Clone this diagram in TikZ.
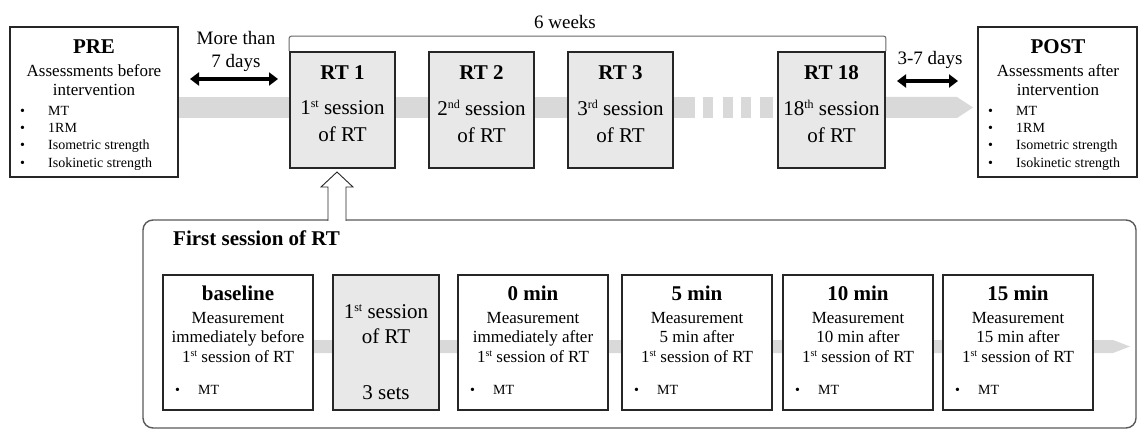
\documentclass[tikz,border=0pt]{standalone}
\usepackage{fontspec}
\setmainfont{Liberation Serif}
\usetikzlibrary{arrows.meta}
\newcommand{\supL}[1]{\raisebox{7pt}{\fontsize{12}{12}\selectfont #1}}
\newcommand{\supS}[1]{\raisebox{5.5pt}{\fontsize{10}{10}\selectfont #1}}
\newcommand{\blt}[2][28pt]{\makebox[#1][l]{\textbullet}#2}
\begin{document}
\begin{tikzpicture}
		[x=1pt,y=-1pt,
		 whitebox/.style={rectangle,draw=black!85,line width=1.6pt,fill=white,inner sep=0pt},
		 graybox/.style={whitebox,fill=black!9},
		 band/.style={fill=black!15,draw=none},
		 head/.style={font=\bfseries\fontsize{21}{24}\selectfont,inner sep=0pt},
		 desc/.style={font=\fontsize{17}{19.5}\selectfont,inner sep=0pt,align=center},
		 sess/.style={font=\fontsize{21}{27}\selectfont,inner sep=0pt,align=center},
		 note/.style={font=\fontsize{19}{23}\selectfont,inner sep=0pt,align=center},
		 items/.style={font=\fontsize{14}{17.3}\selectfont,inner sep=0pt,anchor=west,align=left},
		 span/.style={line width=4pt,{Triangle[width=13pt,length=9pt]}-{Triangle[width=13pt,length=9pt]}}]
		\useasboundingbox (0,0) rectangle (1139,430);
		% timeline bands
		\fill[band] (178,97) rectangle (695,118);
		\fill[band] (703,97) rectangle (713,118);
		\fill[band] (723,97) rectangle (733,118);
		\fill[band] (741,97) rectangle (751,118);
		\fill[band] (760,97) rectangle (773,118);
		\fill[band] (778,97) -- (957,97) -- (973,107.5) -- (957,118) -- (778,118) -- cycle;
		% top row
		\node[whitebox,name=pre,minimum width=168pt,minimum height=150pt] at (94,102) {};
		\node[head,name=pretitle] at (94,47) {PRE};
		\node[desc,name=pretext] at (94,80) {Assessments before\\intervention};
		\node[items,name=preitems] at (20,138) {\blt{MT}\\\blt{1RM}\\\blt{Isometric strength}\\\blt{Isokinetic strength}};
		\node[whitebox,name=post,minimum width=159pt,minimum height=150pt] at (1057.5,102) {};
		\node[head,name=posttitle] at (1058,47) {POST};
		\node[desc,name=posttext] at (1058,80) {Assessments after\\intervention};
		\node[items,name=postitems] at (988,138) {\blt{MT}\\\blt{1RM}\\\blt{Isometric strength}\\\blt{Isokinetic strength}};
		\node[graybox,name=rt1,minimum width=105pt,minimum height=116pt] at (342.5,110) {};
		\node[graybox,name=rt2,minimum width=105pt,minimum height=116pt] at (481.5,110) {};
		\node[graybox,name=rt3,minimum width=105pt,minimum height=116pt] at (620.5,110) {};
		\node[graybox,name=rt18,minimum width=107pt,minimum height=116pt] at (831.5,110) {};
		\node[head,name=rt1title] at (342.5,73) {RT 1};
		\node[head,name=rt2title] at (481.5,73) {RT 2};
		\node[head,name=rt3title] at (620.5,73) {RT 3};
		\node[head,name=rt18title] at (831.5,73) {RT 18};
		\node[sess,name=rt1text] at (342.5,121.5) {1\supL{st} session\\of RT};
		\node[sess,name=rt2text] at (481.5,121.5) {2\supL{nd} session\\of RT};
		\node[sess,name=rt3text] at (620.5,121.5) {3\supL{rd} session\\of RT};
		\node[sess,name=rt18text] at (831.5,121.5) {18\supL{th} session\\of RT};
		% six weeks bracket
		\draw[black!60,line width=1pt,rounded corners=2pt] (rt1.north west) -- ++(0,-15) -| (rt18.north east);
		\node[note,name=weeks] at (565,22) {6 weeks};
		% intervals
		\node[note,name=gap1] at (236,51.5) {More than\\7 days};
		\coordinate (g1a) at (190,79);
		\coordinate (g1b) at (278,79);
		\draw[span] (g1a) -- (g1b);
		\node[note,name=gap2] at (930,60) {3-7 days};
		\coordinate (g2a) at (897,81);
		\coordinate (g2b) at (958,81);
		\draw[span] (g2a) -- (g2b);
		% first session panel
		\node[rectangle,draw=black!65,line width=1.4pt,rounded corners=10pt,minimum width=993pt,minimum height=208pt,name=first] at (639.5,324) {};
		\draw[black!85,line width=0.9pt,fill=white] (328,221) -- (328,187) -- (321,187) -- (337,172) -- (353,187) -- (346,187) -- (346,221);
		\node[head,anchor=west,name=firsttitle] at (173,238) {First session of RT};
		\fill[band] (163,340) -- (1113,340) -- (1130,346.5) -- (1113,353) -- (163,353) -- cycle;
		\node[whitebox,name=base,minimum width=150pt,minimum height=135pt] at (238,342.5) {};
		\node[graybox,name=rtfirst,minimum width=106pt,minimum height=135pt] at (386,342.5) {};
		\node[whitebox,name=m0,minimum width=150pt,minimum height=135pt] at (533,342.5) {};
		\node[whitebox,name=m5,minimum width=150pt,minimum height=135pt] at (697,342.5) {};
		\node[whitebox,name=m10,minimum width=150pt,minimum height=135pt] at (858,342.5) {};
		\node[whitebox,name=m15,minimum width=150pt,minimum height=135pt] at (1018,342.5) {};
		\node[head,name=basetitle] at (238,293) {baseline};
		\node[desc,name=basetext] at (238,337.5) {Measurement\\immediately before\\1\supS{st} session of RT};
		\node[items,name=baseitems] at (175,390) {\blt[23pt]{MT}};
		\node[sess,font=\fontsize{21}{25}\selectfont,name=rtfirsttext] at (386,324.5) {1\supL{st} session\\of RT};
		\node[sess,name=rtfirstsets] at (386,393) {3 sets};
		\node[head,name=m0title] at (533,293) {0 min};
		\node[desc,name=m0text] at (533,337.5) {Measurement\\immediately after\\1\supS{st} session of RT};
		\node[items,name=m0items] at (470,390) {\blt[23pt]{MT}};
		\node[head,name=m5title] at (697,293) {5 min};
		\node[desc,name=m5text] at (697,337.5) {Measurement\\5 min after\\1\supS{st} session of RT};
		\node[items,name=m5items] at (634,390) {\blt[23pt]{MT}};
		\node[head,name=m10title] at (858,293) {10 min};
		\node[desc,name=m10text] at (858,337.5) {Measurement\\10 min after\\1\supS{st} session of RT};
		\node[items,name=m10items] at (795,390) {\blt[23pt]{MT}};
		\node[head,name=m15title] at (1018,293) {15 min};
		\node[desc,name=m15text] at (1018,337.5) {Measurement\\15 min after\\1\supS{st} session of RT};
		\node[items,name=m15items] at (955,390) {\blt[23pt]{MT}};
	\end{tikzpicture}
\end{document}
